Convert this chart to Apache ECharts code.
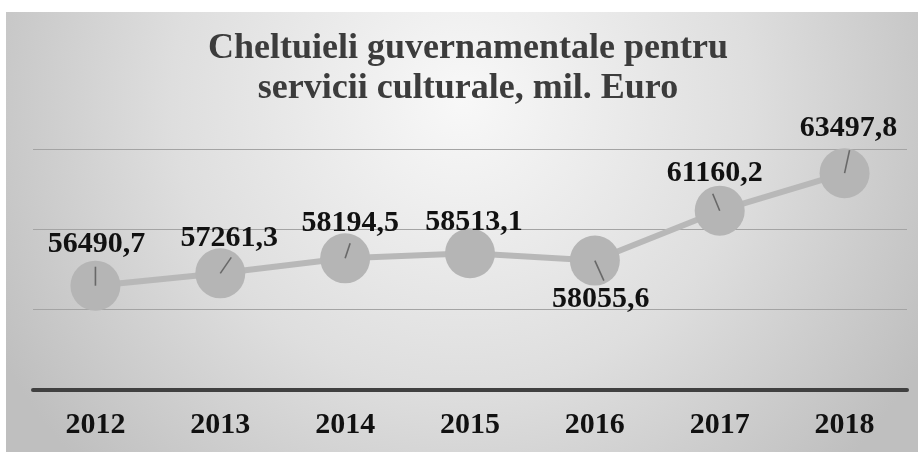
<!DOCTYPE html>
<html>
<head>
<meta charset="utf-8">
<script src="https://cdn.jsdelivr.net/npm/echarts@6/dist/echarts.min.js"></script>
<style>
    html, body {
        margin: 0;
        padding: 0;
        background: #fff;
    }

    #chart {
        width: 918px;
        height: 454px;
    }
</style>
</head>
<body>
<div id="chart"></div>
<script>
// data
const years = ['2012', '2013', '2014', '2015', '2016', '2017', '2018']
const spending = [56490.7, 57261.3, 58194.5, 58513.1, 58055.6, 61160.2, 63497.8]

// value axis range (no tick labels are shown)
const yMin = 50000
const yMax = 65000
const yStep = 5000

// where each data label sits relative to its point, px
const labelOffsets = [[1, -41], [9, -35], [5, -35], [4, -31], [6, 39], [-5, -37], [4, -45]]
// short leader line from each point towards its label, px (null = hidden)
const leaders = [[0, -19], [11, -16], [5, -15], null, [9, 20], [-7, -17], [5, -23]]

const serif = '"Liberation Serif", "Times New Roman", serif'
const chart = echarts.init(document.getElementById('chart'))

const leaderData = []
leaders.forEach(function (v, i) {
    if (!v) return
    const len = Math.sqrt(v[0] * v[0] + v[1] * v[1])
    leaderData.push({
        value: [years[i], spending[i]],
        symbolSize: [1.6, len],
        symbolRotate: -Math.atan2(v[0], -v[1]) * 180 / Math.PI,
        symbolOffset: [v[0] / 2, v[1] / 2]
    })
})

const option = {
    animation: false,
    graphic: [{
        type: 'rect',
        z: -10,
        silent: true,
        shape: { x: 6, y: 12, width: 912, height: 440 },
        style: {
            fill: new echarts.graphic.RadialGradient(0.5, 0.2, 1.2, [
                { offset: 0, color: '#f8f8f8' },
                { offset: 0.55, color: '#dedede' },
                { offset: 1, color: '#bfbfbf' }
            ])
        }
    }],
    title: {
        text: 'Cheltuieli guvernamentale pentru\nservicii culturale, mil. Euro',
        left: 468,
        top: 29,
        textAlign: 'center',
        padding: 0,
        textStyle: {
            fontFamily: serif,
            fontSize: 36,
            fontWeight: 'bold',
            color: '#3c3c3c',
            lineHeight: 40
        }
    },
    grid: {
        left: 33,
        right: 11,
        top: 149,
        bottom: 64
    },
    xAxis: {
        type: 'category',
        data: years,
        axisLine: {
            lineStyle: { color: '#404040', width: 4 }
        },
        axisTick: { show: false },
        axisLabel: {
            margin: 20,
            fontFamily: serif,
            fontSize: 30,
            fontWeight: 'bold',
            color: '#111'
        }
    },
    yAxis: {
        type: 'value',
        min: yMin,
        max: yMax,
        interval: yStep,
        axisLine: { show: false },
        axisTick: { show: false },
        axisLabel: { show: false },
        splitLine: {
            lineStyle: { color: '#a4a4a4', width: 1 }
        }
    },
    series: [
        {
            name: 'Cheltuieli',
            type: 'line',
            z: 2,
            symbol: 'circle',
            symbolSize: 50,
            itemStyle: { color: '#b5b5b5' },
            lineStyle: { color: '#b8b8b8', width: 6 },
            label: {
                show: true,
                position: 'inside',
                fontFamily: serif,
                fontSize: 30,
                fontWeight: 'bold',
                color: '#111',
                formatter: function (p) {
                    return String(p.value).replace('.', ',')
                }
            },
            data: spending.map(function (v, i) {
                return { value: v, label: { offset: labelOffsets[i] } }
            })
        },
        {
            name: 'leader',
            type: 'scatter',
            z: 3,
            silent: true,
            symbol: 'rect',
            itemStyle: { color: '#555' },
            data: leaderData
        }
    ]
}

chart.setOption(option)
</script>
</body>
</html>
